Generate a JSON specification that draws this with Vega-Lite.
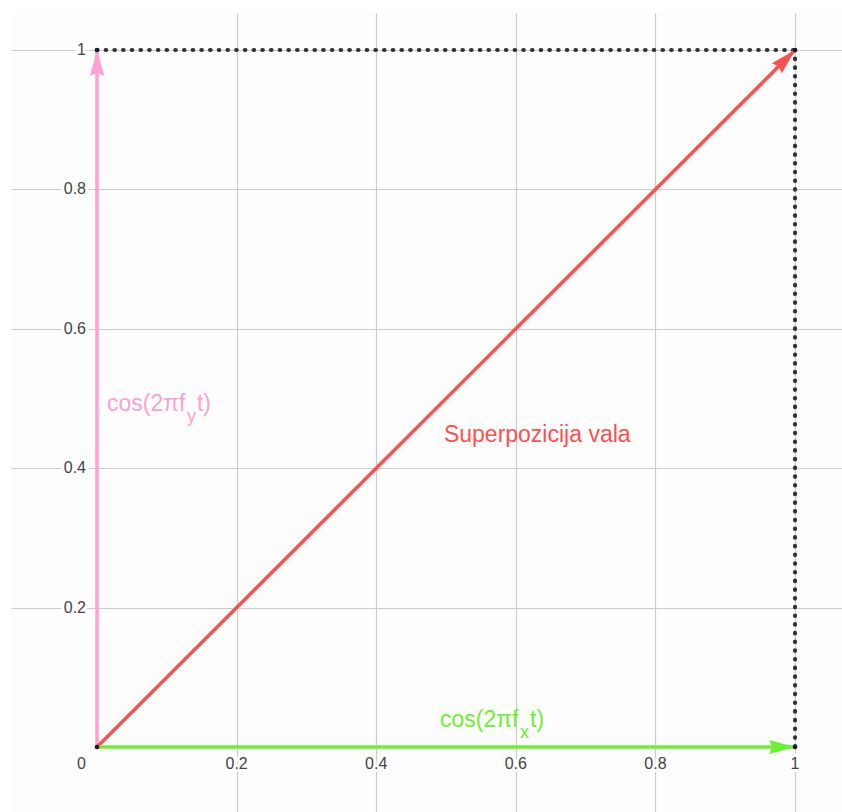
{
  "$schema": "https://vega.github.io/schema/vega-lite/v6.json",
  "autosize": {"type": "none"},
  "width": 831,
  "height": 799,
  "padding": {"left": 11, "top": 13, "right": 0, "bottom": 0},
  "background": "#ffffff",
  "config": {"view": {"stroke": null, "fill": "#fdfdfd"}, "font": "Liberation Sans"},
  "datasets": {
    "segments": [
      {"seg": "pink", "x": 0, "y": 0, "xe": 0, "ye": 1},
      {"seg": "red", "x": 0, "y": 0, "xe": 1, "ye": 1},
      {"seg": "green", "x": 0, "y": 0, "xe": 1, "ye": 0}
    ],
    "dotted": [
      {"x": 0, "y": 1, "xe": 1, "ye": 1},
      {"x": 1, "y": 1, "xe": 1, "ye": 0}
    ],
    "corners": [{"x": 0, "y": 0}, {"x": 0, "y": 1}, {"x": 1, "y": 1}, {"x": 1, "y": 0}],
    "arrows": [
      {"seg": "pink", "x": 0, "y": 1},
      {"seg": "red", "x": 1, "y": 1},
      {"seg": "green", "x": 1, "y": 0}
    ],
    "xticks": [
      {"x": 0.2, "y": 0, "label": "0.2"},
      {"x": 0.4, "y": 0, "label": "0.4"},
      {"x": 0.6, "y": 0, "label": "0.6"},
      {"x": 0.8, "y": 0, "label": "0.8"},
      {"x": 1, "y": 0, "label": "1"}
    ],
    "yticks": [
      {"x": 0, "y": 0.2, "label": "0.2"},
      {"x": 0, "y": 0.4, "label": "0.4"},
      {"x": 0, "y": 0.6, "label": "0.6"},
      {"x": 0, "y": 0.8, "label": "0.8"},
      {"x": 0, "y": 1, "label": "1"}
    ],
    "origin": [{"x": 0, "y": 0, "label": "0"}],
    "labels": [
      {"seg": "pink", "x": 0.0143, "y": 0.482, "main": "cos(2πf", "sub": "y", "tail": "t)"},
      {"seg": "green", "x": 0.4914, "y": 0.0287, "main": "cos(2πf", "sub": "x", "tail": "t)"}
    ],
    "redlabel": [{"seg": "red", "x": 0.497, "y": 0.4376, "text": "Superpozicija vala"}]
  },
  "layer": [
    {
      "data": {"name": "segments"},
      "mark": {"type": "rule", "opacity": 0},
      "encoding": {
        "x": {"field": "x", "type": "quantitative",
          "scale": {"domain": [-0.1232, 1.0673], "nice": false, "zero": false},
          "axis": {"values": [0.2, 0.4, 0.6, 0.8, 1], "labels": false, "ticks": false, "domain": false, "title": null, "grid": true, "gridColor": "#cccccc", "gridWidth": 1.2}},
        "y": {"field": "y", "type": "quantitative",
          "scale": {"domain": [-0.0933, 1.0531], "nice": false, "zero": false},
          "axis": {"values": [0.2, 0.4, 0.6, 0.8, 1], "labels": false, "ticks": false, "domain": false, "title": null, "grid": true, "gridColor": "#cccccc", "gridWidth": 1.2}},
        "x2": {"field": "xe"},
        "y2": {"field": "ye"}
      }
    },
    {
      "mark": {"type": "rule", "color": "#000000", "strokeWidth": 1.6},
      "encoding": {"x": {"datum": 0, "type": "quantitative"}}
    },
    {
      "mark": {"type": "rule", "color": "#000000", "strokeWidth": 1.6},
      "encoding": {"y": {"datum": 0, "type": "quantitative"}}
    },
    {
      "data": {"name": "xticks"},
      "mark": {"type": "text", "align": "center", "baseline": "middle", "dy": 17, "fontSize": 16, "stroke": "#fdfdfd", "strokeWidth": 6, "fill": "#fdfdfd"},
      "encoding": {"x": {"field": "x", "type": "quantitative"}, "y": {"field": "y", "type": "quantitative"}, "text": {"field": "label"}}
    },
    {
      "data": {"name": "xticks"},
      "mark": {"type": "text", "align": "center", "baseline": "middle", "dy": 17, "fontSize": 16, "color": "#444444"},
      "encoding": {"x": {"field": "x", "type": "quantitative"}, "y": {"field": "y", "type": "quantitative"}, "text": {"field": "label"}}
    },
    {
      "data": {"name": "yticks"},
      "mark": {"type": "text", "align": "right", "baseline": "middle", "dx": -11, "fontSize": 16, "stroke": "#fdfdfd", "strokeWidth": 6, "fill": "#fdfdfd"},
      "encoding": {"x": {"field": "x", "type": "quantitative"}, "y": {"field": "y", "type": "quantitative"}, "text": {"field": "label"}}
    },
    {
      "data": {"name": "yticks"},
      "mark": {"type": "text", "align": "right", "baseline": "middle", "dx": -11, "fontSize": 16, "color": "#444444"},
      "encoding": {"x": {"field": "x", "type": "quantitative"}, "y": {"field": "y", "type": "quantitative"}, "text": {"field": "label"}}
    },
    {
      "data": {"name": "origin"},
      "mark": {"type": "text", "align": "right", "baseline": "middle", "dx": -11, "dy": 17, "fontSize": 16, "color": "#444444"},
      "encoding": {"x": {"field": "x", "type": "quantitative"}, "y": {"field": "y", "type": "quantitative"}, "text": {"field": "label"}}
    },
    {
      "data": {"name": "dotted"},
      "mark": {"type": "rule", "color": "#333333", "strokeWidth": 4.2, "strokeCap": "round", "strokeDash": [0.5, 8.2]},
      "encoding": {
        "x": {"field": "x", "type": "quantitative"},
        "y": {"field": "y", "type": "quantitative"},
        "x2": {"field": "xe"},
        "y2": {"field": "ye"}
      }
    },
    {
      "data": {"name": "segments"},
      "mark": {"type": "rule", "strokeCap": "butt"},
      "encoding": {
        "x": {"field": "x", "type": "quantitative"},
        "y": {"field": "y", "type": "quantitative"},
        "x2": {"field": "xe"},
        "y2": {"field": "ye"},
        "color": {"field": "seg", "type": "nominal", "legend": null,
          "scale": {"domain": ["pink", "red", "green"], "range": ["#ff9fd2", "#ff4f4f", "#6cf030"]}},
        "strokeWidth": {"field": "seg", "type": "nominal", "legend": null,
          "scale": {"domain": ["pink", "red", "green"], "range": [3.5, 3.5, 4]}}
      }
    },
    {
      "data": {"name": "arrows"},
      "transform": [{"filter": "datum.seg === 'pink'"}],
      "mark": {"type": "point", "filled": true, "opacity": 1, "shape": "M0,0L0.55,2L0,1.8L-0.55,2Z", "size": 660, "angle": 0},
      "encoding": {
        "x": {"field": "x", "type": "quantitative"},
        "y": {"field": "y", "type": "quantitative"},
        "color": {"field": "seg", "type": "nominal", "legend": null}
      }
    },
    {
      "data": {"name": "arrows"},
      "transform": [{"filter": "datum.seg === 'red'"}],
      "mark": {"type": "point", "filled": true, "opacity": 1, "shape": "M0,0L0.55,2L0,1.8L-0.55,2Z", "size": 660, "angle": 45},
      "encoding": {
        "x": {"field": "x", "type": "quantitative"},
        "y": {"field": "y", "type": "quantitative"},
        "color": {"field": "seg", "type": "nominal", "legend": null}
      }
    },
    {
      "data": {"name": "arrows"},
      "transform": [{"filter": "datum.seg === 'green'"}],
      "mark": {"type": "point", "filled": true, "opacity": 1, "shape": "M0,0L0.55,2L0,1.8L-0.55,2Z", "size": 660, "angle": 90},
      "encoding": {
        "x": {"field": "x", "type": "quantitative"},
        "y": {"field": "y", "type": "quantitative"},
        "color": {"field": "seg", "type": "nominal", "legend": null}
      }
    },
    {
      "data": {"name": "corners"},
      "mark": {"type": "point", "filled": true, "opacity": 1, "color": "#1a1a2a", "size": 22},
      "encoding": {
        "x": {"field": "x", "type": "quantitative"},
        "y": {"field": "y", "type": "quantitative"}
      }
    },
    {
      "data": {"name": "labels"},
      "mark": {"type": "text", "align": "left", "baseline": "alphabetic", "fontSize": 23},
      "encoding": {
        "x": {"field": "x", "type": "quantitative"},
        "y": {"field": "y", "type": "quantitative"},
        "text": {"field": "main"},
        "color": {"field": "seg", "type": "nominal", "legend": null}
      }
    },
    {
      "data": {"name": "labels"},
      "mark": {"type": "text", "align": "left", "baseline": "alphabetic", "fontSize": 18, "dx": 80, "dy": 11},
      "encoding": {
        "x": {"field": "x", "type": "quantitative"},
        "y": {"field": "y", "type": "quantitative"},
        "text": {"field": "sub"},
        "color": {"field": "seg", "type": "nominal", "legend": null}
      }
    },
    {
      "data": {"name": "labels"},
      "mark": {"type": "text", "align": "left", "baseline": "alphabetic", "fontSize": 23, "dx": 90},
      "encoding": {
        "x": {"field": "x", "type": "quantitative"},
        "y": {"field": "y", "type": "quantitative"},
        "text": {"field": "tail"},
        "color": {"field": "seg", "type": "nominal", "legend": null}
      }
    },
    {
      "data": {"name": "redlabel"},
      "mark": {"type": "text", "align": "left", "baseline": "alphabetic", "fontSize": 23},
      "encoding": {
        "x": {"field": "x", "type": "quantitative"},
        "y": {"field": "y", "type": "quantitative"},
        "text": {"field": "text"},
        "color": {"field": "seg", "type": "nominal", "legend": null}
      }
    }
  ]
}
